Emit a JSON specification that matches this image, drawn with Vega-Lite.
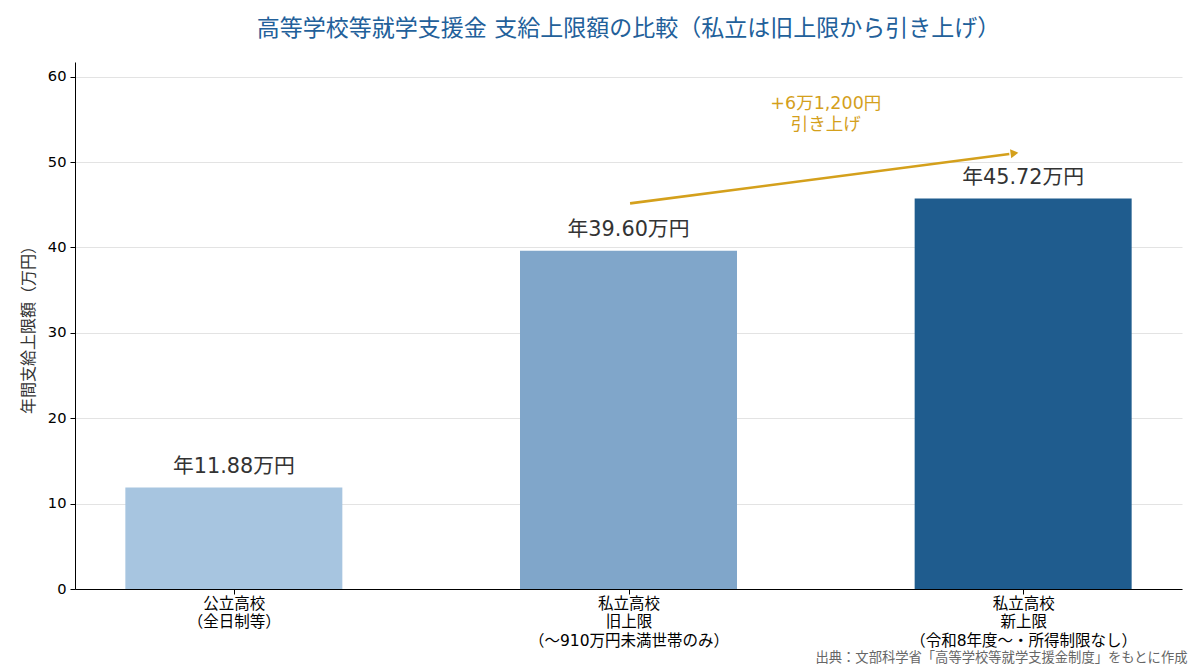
{
  "$schema": "https://vega.github.io/schema/vega-lite/v6.json",
  "width": 1107,
  "height": 527,
  "autosize": {"type": "none"},
  "padding": {"left": 75, "top": 62, "right": 18, "bottom": 83},
  "background": "white",
  "config": {
    "font": "DejaVu Sans, Noto Sans CJK JP",
    "view": {"stroke": null}
  },
  "title": {
    "text": "高等学校等就学支援金 支給上限額の比較（私立は旧上限から引き上げ）",
    "fontSize": 23,
    "fontWeight": "normal",
    "color": "#22609a",
    "anchor": "middle",
    "offset": 21
  },
  "datasets": {
    "bars": [
      {"idx": 0, "category": "公立高校（全日制等）", "value": 11.88, "label": "年11.88万円", "group": "a"},
      {"idx": 1, "category": "私立高校 旧上限", "value": 39.6, "label": "年39.60万円", "group": "b"},
      {"idx": 2, "category": "私立高校 新上限", "value": 45.72, "label": "年45.72万円", "group": "c"}
    ],
    "arrow": [
      {"x": 1.004, "y": 45.16},
      {"x": 1.965, "y": 50.95}
    ],
    "head": [
      {"x": 1.978, "y": 51.04}
    ],
    "note": [
      {"x": 1.5, "y": 56.75, "text": "+6万1,200円\n引き上げ"}
    ]
  },
  "layer": [
    {
      "data": {"name": "bars"},
      "mark": {"type": "bar", "size": 217},
      "encoding": {
        "x": {
          "field": "idx",
          "type": "quantitative",
          "scale": {"domain": [-0.4025, 2.4025], "nice": false, "zero": false, "padding": 0},
          "axis": {
            "values": [0, 1, 2],
            "grid": false,
            "domainColor": "#000000",
            "tickColor": "#000000",
            "tickSize": 5,
            "labelFontSize": 15.5,
            "labelColor": "#000000",
            "labelLineHeight": 18.5,
            "labelPadding": 2,
            "labelBaseline": "top",
            "labelLimit": 0,
            "labelExpr": "datum.value == 0 ? ['公立高校', '（全日制等）'] : datum.value == 1 ? ['私立高校', '旧上限', '（～910万円未満世帯のみ）'] : ['私立高校', '新上限', '（令和8年度～・所得制限なし）']",
            "title": "出典：文部科学省「高等学校等就学支援金制度」をもとに作成",
            "titleFontSize": 13.3,
            "titleFontWeight": "normal",
            "titleColor": "#666666",
            "titleAnchor": "end",
            "titleAlign": "right",
            "titleBaseline": "middle",
            "titleX": 1112,
            "titleY": 68
          }
        },
        "y": {
          "field": "value",
          "type": "quantitative",
          "scale": {"domain": [0, 61.72], "nice": false},
          "axis": {
            "values": [0, 10, 20, 30, 40, 50, 60],
            "gridColor": "#e3e3e3",
            "gridWidth": 1,
            "domainColor": "#000000",
            "tickColor": "#000000",
            "tickSize": 5,
            "labelFontSize": 14.67,
            "labelColor": "#000000",
            "labelPadding": 4,
            "title": "年間支給上限額（万円）",
            "titleFontSize": 16,
            "titleFontWeight": "normal",
            "titleColor": "#333333",
            "titlePadding": 11
          }
        },
        "color": {
          "field": "group",
          "type": "nominal",
          "scale": {"domain": ["a", "b", "c"], "range": ["#a7c5e0", "#80a6ca", "#1f5c8e"]},
          "legend": null
        }
      }
    },
    {
      "data": {"name": "bars"},
      "mark": {"type": "text", "fontSize": 20.8, "color": "#333333", "baseline": "middle", "dy": -20.5},
      "encoding": {
        "x": {"field": "idx", "type": "quantitative"},
        "y": {"field": "value", "type": "quantitative"},
        "text": {"field": "label"}
      }
    },
    {
      "data": {"name": "arrow"},
      "mark": {"type": "line", "color": "#d4a01c", "strokeWidth": 2.6, "clip": false},
      "encoding": {
        "x": {"field": "x", "type": "quantitative"},
        "y": {"field": "y", "type": "quantitative"}
      }
    },
    {
      "data": {"name": "head"},
      "mark": {"type": "point", "shape": "triangle-right", "filled": true, "color": "#d4a01c", "opacity": 1, "size": 80, "angle": -7.5},
      "encoding": {
        "x": {"field": "x", "type": "quantitative"},
        "y": {"field": "y", "type": "quantitative"}
      }
    },
    {
      "data": {"name": "note"},
      "mark": {"type": "text", "fontSize": 17.5, "color": "#d4a01c", "baseline": "middle", "align": "center", "lineBreak": "\n", "lineHeight": 21},
      "encoding": {
        "x": {"field": "x", "type": "quantitative"},
        "y": {"field": "y", "type": "quantitative"},
        "text": {"field": "text"}
      }
    }
  ]
}
